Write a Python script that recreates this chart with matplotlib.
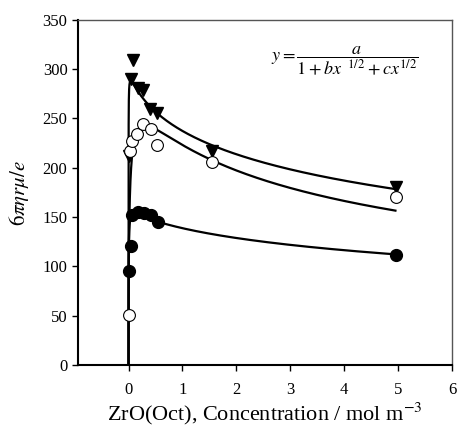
import numpy as np
import matplotlib
matplotlib.use("Agg")
import matplotlib.pyplot as plt

plt.rcParams["font.family"] = "Liberation Serif"
plt.rcParams["mathtext.fontset"] = "stix"

# dados (concentração, valor)
x_tri = [0.0, 0.04, 0.09, 0.17, 0.27, 0.39, 0.52, 1.54, 4.96]
y_tri = [212, 290, 309, 281, 279, 260, 256, 217, 181]

x_open = [0.0, 0.02, 0.07, 0.15, 0.27, 0.41, 0.53, 1.54, 4.96]
y_open = [51, 217, 227, 234, 244, 239, 223, 206, 170]

x_fill = [0.0, 0.04, 0.07, 0.17, 0.29, 0.41, 0.54, 4.96]
y_fill = [95, 121, 152, 155, 154, 152, 145, 112]

# parâmetros do ajuste y = a*x^1/2 / (1 + b*x^1/2 + c*x)
fit_tri = (21600, 65.0, 25.0)
fit_open = (1852, 3.97, 3.33)
fit_fill = (5666, 31.5, 8.33)


def curva(p, xs):
    a, b, c = p
    s = np.sqrt(xs)
    return a * s / (1 + b * s + c * xs)


xc = np.linspace(0, np.sqrt(4.95), 600) ** 2

fig = plt.figure(figsize=(4.58, 4.32), dpi=100)
ax = fig.add_axes([0.170, 0.155, 0.817, 0.799])

for p in (fit_tri, fit_open, fit_fill):
    ax.plot(xc, curva(p, xc), color="black", lw=1.6, zorder=2)

ax.plot(x_tri, y_tri, "v", color="black", ms=9, zorder=3)
ax.plot(x_open, y_open, "o", mfc="white", mec="black", mew=0.8, ms=8.5, zorder=3)
ax.plot(x_fill, y_fill, "o", color="black", ms=8.5, zorder=3)

ax.set_xlim(-0.94, 6)
ax.set_ylim(0, 350)
ax.set_xticks(range(0, 7))
ax.set_yticks(range(0, 351, 50))
ax.tick_params(direction="out", length=4, labelsize=12, width=1)
ax.tick_params(axis="x", pad=8)

for lado in ("left", "bottom"):
    ax.spines[lado].set_linewidth(1.5)
for lado in ("top", "right"):
    ax.spines[lado].set_linewidth(1.0)
    ax.spines[lado].set_color("#555555")

ax.set_xlabel(r"ZrO(Oct), Concentration / mol m$^{-3}$", fontsize=16, labelpad=2)
ax.set_ylabel(r"$6\pi\eta r\mu/e$", fontsize=15, labelpad=8)

ax.text(0.91, 0.881, r"$y = \dfrac{a}{1+bx^{\ \ 1/2}+cx^{1/2}}$",
        transform=ax.transAxes, ha="right", va="center", fontsize=13)

fig.savefig("out.png", dpi=100)
